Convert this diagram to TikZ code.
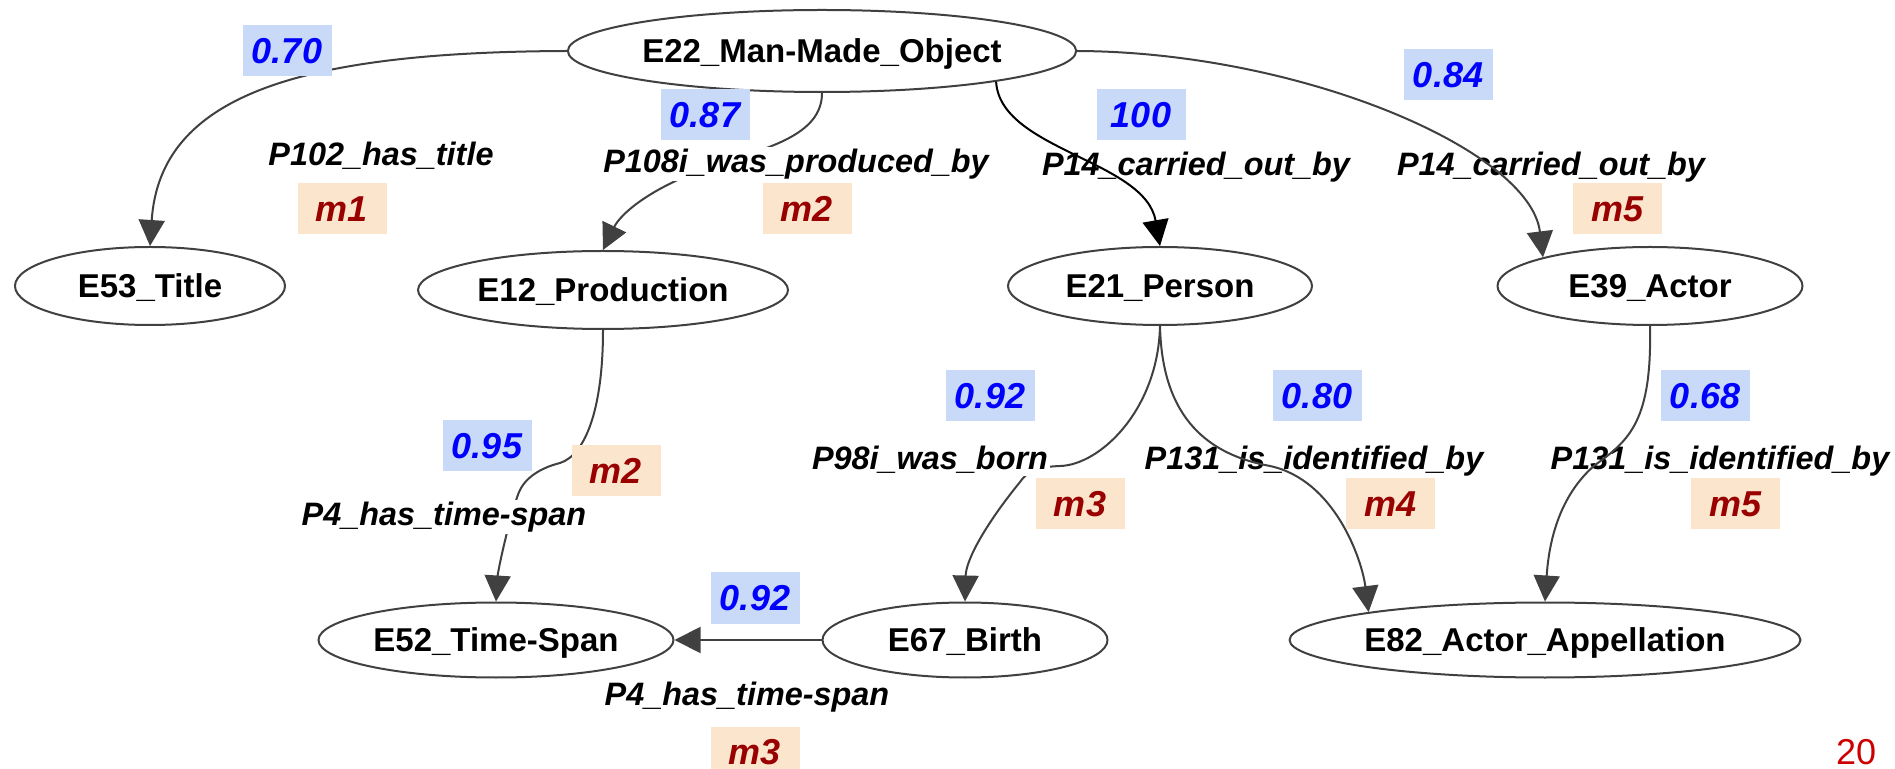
\documentclass[tikz,border=0pt]{standalone}
\usepackage{fontspec}
\setmainfont{Liberation Sans}
\usetikzlibrary{shapes.geometric,arrows.meta}
\definecolor{edgegray}{RGB}{64,64,64}
\definecolor{boxblue}{RGB}{201,218,248}
\definecolor{boxpeach}{RGB}{252,229,205}
\definecolor{numblue}{RGB}{0,0,255}
\definecolor{mred}{RGB}{153,0,0}
\definecolor{pagered}{RGB}{204,0,0}
\tikzset{
  ent/.style={ellipse, draw=edgegray, line width=1pt, inner sep=0pt, minimum height=39pt,
    text depth=0pt, font=\fontsize{16.5}{20}\selectfont\bfseries},
  rel/.style={font=\fontsize{16.2}{20}\selectfont\bfseries\itshape, inner sep=1pt},
  relw/.style={rel, fill=white},
  conf/.style={fill=boxblue, text=numblue, minimum width=44.5pt, minimum height=25.5pt,
    inner sep=0pt, font=\fontsize{18}{21}\selectfont\bfseries\itshape},
  mbox/.style={conf, fill=boxpeach, text=mred},
  link/.style={draw=edgegray, line width=1pt, -{Triangle[length=13pt,width=13pt]}},
}
\begin{document}
\begin{tikzpicture}[x=0.5pt,y=-0.5pt]
\useasboundingbox (0,0) rectangle (1895,769);
% entities
\node[ent, minimum width=252.5pt, minimum height=41pt] (E22) at (822,51) {E22\_Man-Made\_Object};
\node[ent, minimum width=135pt] (E53) at (150,286) {E53\_Title};
\node[ent, minimum width=185pt] (E12) at (603,290) {E12\_Production};
\node[ent, minimum width=152pt] (E21) at (1160,286) {E21\_Person};
\node[ent, minimum width=152.5pt] (E39) at (1650,286) {E39\_Actor};
\node[ent, minimum width=177.5pt, minimum height=37.5pt] (E52) at (496,640) {E52\_Time-Span};
\node[ent, minimum width=142.5pt, minimum height=37.5pt] (E67) at (965,640) {E67\_Birth};
\node[ent, minimum width=252.5pt, minimum height=37.5pt] (E82) at (1545,640) {E82\_Actor\_Appellation};

% edges hidden partly by labels
\draw[link] (E22.south) .. controls (822,130) and (780,145) .. (730,160)
  .. controls (650,185) and (620,215) .. (E12.north);
\draw[link] (E12.south) .. controls (603,410) and (585,455) .. (560,463)
  .. controls (540,468) and (525,478) .. (519,492)
  .. controls (510,515) and (498,570) .. (E52.north);
\draw[link] (E21.south) .. controls (1158,410) and (1100,465) .. (1060,466)
  .. controls (1035,467) and (1027,472) .. (1020,482)
  .. controls (985,525) and (966,560) .. (E67.north);

% labels
\node[rel] (l1) at (381,156) {P102\_has\_title};
\node[relw] (l2) at (796,164) {P108i\_was\_produced\_by};
\node[rel] (l3) at (1196,167) {P14\_carried\_out\_by};
\node[rel] (l4) at (1551,167) {P14\_carried\_out\_by};
\node[relw] (l5) at (444,517) {P4\_has\_time-span};
\node[relw] (l6) at (930,460) {P98i\_was\_born};
\node[rel] (l7) at (1314,461) {P131\_is\_identified\_by};
\node[rel] (l8) at (1720,461) {P131\_is\_identified\_by};
\node[rel] (l9) at (747,697) {P4\_has\_time-span};

% other edges
\draw[link] (E22.west) .. controls (300,52) and (160,95) .. (E53.north);
\draw[link, draw=black] (E22.-10) .. controls (1000,150) and (1145,160) .. (E21.north);
\draw[link] (E22.east) .. controls (1300,52) and (1530,150) .. (E39.165);
\draw[link] (E21.south) .. controls (1162,420) and (1210,455) .. (1270,466)
  .. controls (1335,480) and (1362,560) .. (E82.171);
\draw[link] (E39.south) .. controls (1652,420) and (1630,440) .. (1595,465)
  .. controls (1560,495) and (1549,540) .. (E82.north);
\draw[link] (E67.west) -- (E52.east);

% score boxes
\node[conf] (c1) at (287,51) {0.70};
\node[mbox] (m1) at (342,209) {m1};
\node[conf] (c2) at (705,115) {0.87};
\node[mbox] (m2a) at (807,209) {m2};
\node[conf] (c3) at (1141,115) {100};
\node[conf] (c4) at (1448,75) {0.84};
\node[mbox] (m5a) at (1617,209) {m5};
\node[conf] (c5) at (487,446) {0.95};
\node[mbox] (m2b) at (616,471) {m2};
\node[conf] (c6) at (990,396) {0.92};
\node[mbox] (m3a) at (1080,504) {m3};
\node[conf] (c7) at (1317,396) {0.80};
\node[mbox] (m4) at (1390,504) {m4};
\node[conf] (c8) at (1705,396) {0.68};
\node[mbox] (m5b) at (1735,504) {m5};
\node[conf] (c9) at (755,598) {0.92};
\node[mbox] (m3b) at (755,752) {m3};

\node[text=pagered, font=\fontsize{18}{21}\selectfont, inner sep=0pt] (pg) at (1856,752) {20};
\end{tikzpicture}
\end{document}
